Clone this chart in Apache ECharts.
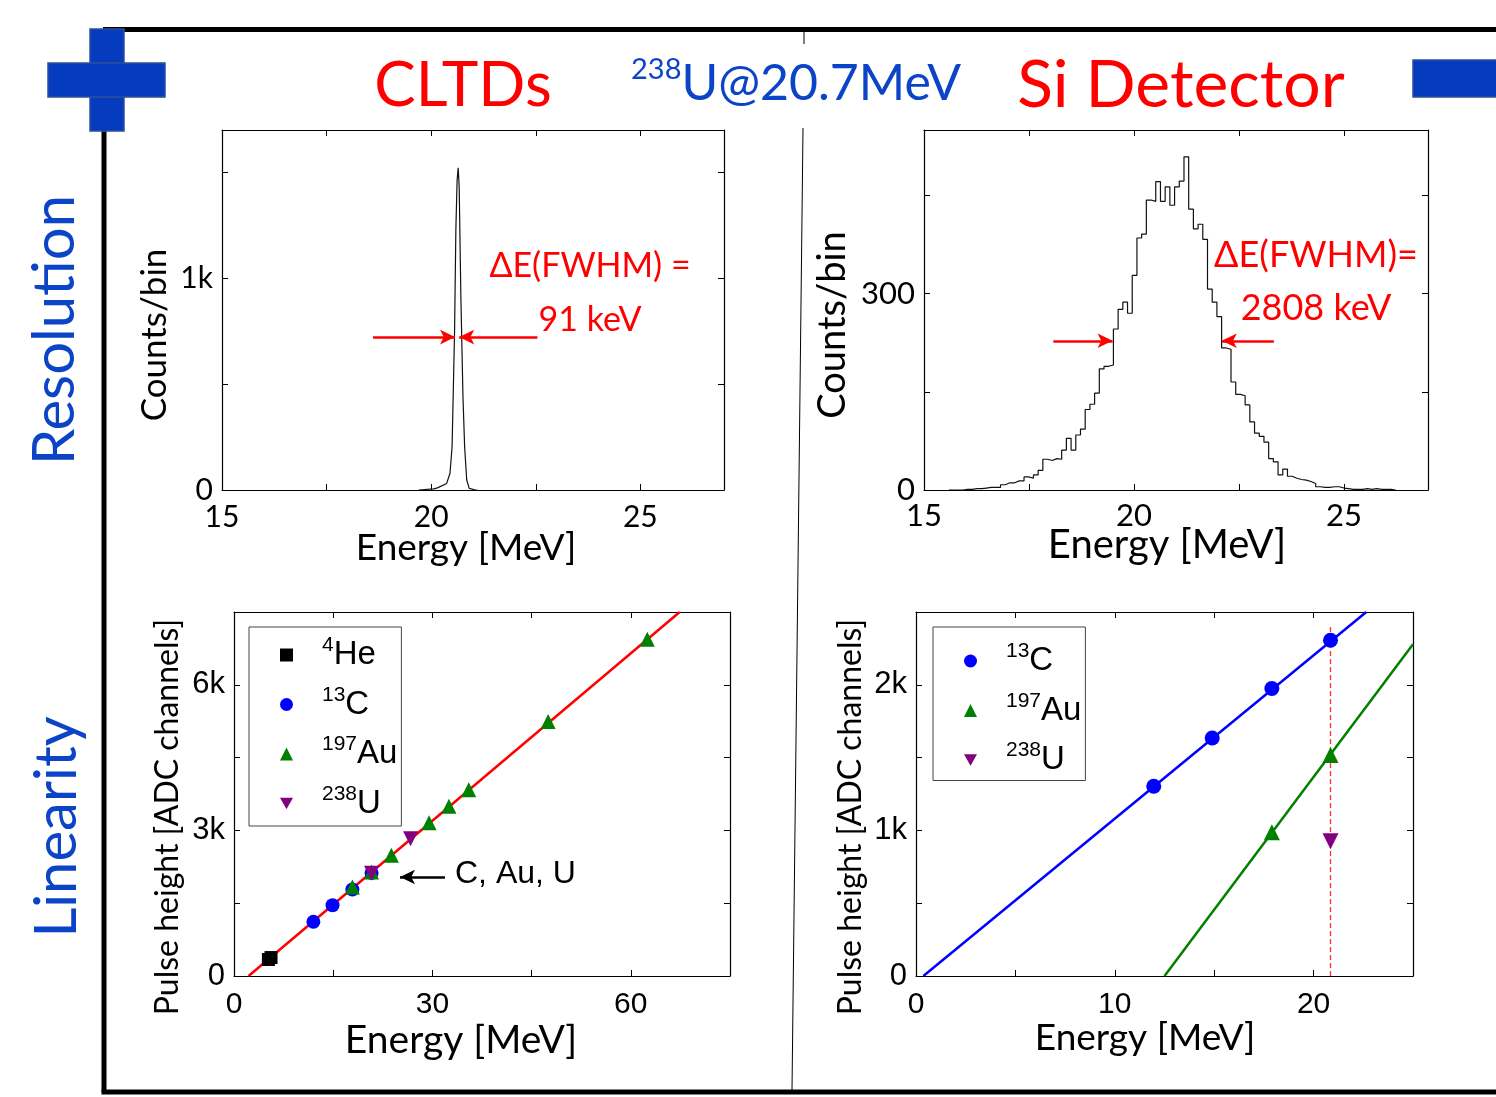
<!DOCTYPE html>
<html>
<head>
<meta charset="utf-8">
<script src="https://cdn.jsdelivr.net/npm/echarts@6/dist/echarts.min.js"></script>
<style>
  html, body { margin: 0; padding: 0; background: #fff; }
  #chart { width: 1496px; height: 1097px; }
</style>
</head>
<body>
<div id="chart"></div>
<script>
// CLTD energy spectrum, [energy MeV, counts/bin]
const cltdSpectrum = [[19.7, 0], [20.06, 5], [20.15, 10], [20.37, 31], [20.45, 79], [20.5, 204], [20.56, 755], [20.59, 1226],
  [20.62, 1462], [20.646, 1522], [20.67, 1430], [20.71, 912], [20.76, 440], [20.8, 204], [20.85, 47], [20.91, 8], [21.04, 1], [21.1, 0]]

// Si detector histogram: first bin edge, bin width (MeV), counts per bin
const siBinStart = 15.59
const siBinWidth = 0.112
const siCounts = [0, 0, 0, 1, 1, 2, 2, 3, 4, 4, 4, 8, 11, 11, 14, 14, 20, 18, 23, 30, 47, 45, 48, 47, 61, 79, 61, 84, 93, 123,
  131, 148, 185, 189, 191, 246, 276, 287, 270, 328, 385, 391, 443, 441, 471, 441, 463, 435, 463, 472, 509, 429, 399, 406, 383,
  307, 287, 265, 217, 215, 165, 146, 144, 130, 104, 87, 82, 73, 48, 43, 23, 32, 21, 18, 16, 15, 13, 10, 5, 4, 4, 5, 5, 3, 2,
  1, 1, 1, 2, 1, 2, 1, 1, 1, 0]

// FWHM arrows: [from, to] energies and height in counts
const cltdArrows = [[18.61, 20.57], [22.54, 20.67]]
const cltdArrowY = 722
const siArrows = [[18.08, 19.49], [23.33, 22.09]]
const siArrowY = 228

// CLTD linearity, [energy MeV, pulse height ADC]
const cltdHe = [[5.2, 340], [5.6, 380]]
const cltdC = [[12.0, 1116], [14.9, 1459], [17.9, 1781], [20.8, 2123]]
const cltdAu = [[17.9, 1835], [20.8, 2144], [23.8, 2486], [29.5, 3157], [32.5, 3500], [35.5, 3836], [47.5, 5246], [62.5, 6938]]
const cltdU = [[20.8, 2116], [26.7, 2829]]
const cltdFit = [[2.2, 0], [67.4, 7500]]
const cauArrow = [[31.9, 2040], [25.1, 2040]]

// Si linearity
const siC = [[11.96, 1303], [14.9, 1635], [17.9, 1975], [20.85, 2306]]
const siAu = [[17.9, 988], [20.85, 1518]]
const siU = [[20.85, 925]]
const siCFit = [[0.37, 0], [22.65, 2500]]
const siAuFit = [[12.5, 0], [25, 2279]]
const uEnergyLine = [[20.85, 0], [20.85, 2416]]

const RED = '#ff0000'
const BLUE = '#0b44c6'
const CAL = 'Lato'
const ARIAL = 'Liberation Sans'
const DOWN_TRI = 'path://M0,0L10,0L5,9Z'

const siHist = siCounts.map((c, i) => [+(siBinStart + i * siBinWidth).toFixed(3), c])
siHist.push([+(siBinStart + siCounts.length * siBinWidth).toFixed(3), 0])

const chart = echarts.init(document.getElementById('chart'), null, { renderer: 'canvas' })

const grids = [
  { left: 222, top: 130, width: 502, height: 360 },
  { left: 924, top: 130, width: 504, height: 360 },
  { left: 234, top: 612, width: 496, height: 364 },
  { left: 916, top: 612, width: 497, height: 364 },
]

function labelMap(map) {
  return v => (map[v] !== undefined ? map[v] : '')
}

function xAxes(gi, min, max, interval, labels, font, size, margin) {
  const base = {
    gridIndex: gi, type: 'value', min, max, interval,
    axisLine: { show: true, onZero: false, lineStyle: { color: '#000', width: 1.2 } },
    axisTick: { show: true, inside: true, length: 6, lineStyle: { color: '#000' } },
    splitLine: { show: false },
  }
  return [
    { ...base, position: 'bottom',
      axisLabel: { margin, color: '#000', fontFamily: font, fontSize: size, formatter: labelMap(labels) } },
    { ...base, position: 'top', axisLabel: { show: false } },
  ]
}

function yAxes(gi, min, max, interval, labels, font, size) {
  const base = {
    gridIndex: gi, type: 'value', min, max, interval,
    axisLine: { show: true, onZero: false, lineStyle: { color: '#000', width: 1.2 } },
    axisTick: { show: true, inside: true, length: 6, lineStyle: { color: '#000' } },
    splitLine: { show: false },
  }
  return [
    { ...base, position: 'left',
      axisLabel: { margin: 9, color: '#000', fontFamily: font, fontSize: size, formatter: labelMap(labels) } },
    { ...base, position: 'right', axisLabel: { show: false } },
  ]
}

const arrowLine = (pairs, y) => pairs.map(p => [{ coord: [p[0], y] }, { coord: [p[1], y] }])

const legendNames = {
  'He': '{g|}{s|4}{b|He}', 'C': '{g|}{s|13}{b|C}', 'Au': '{g|}{s|197}{b|Au}', 'U': '{g|}{s|238}{b|U}',
  'C ': '{g|}{s|13}{b|C}', 'Au ': '{g|}{s|197}{b|Au}', 'U ': '{g|}{s|238}{b|U}',
}
const legendRich = {
  g: { width: 24 },
  s: { fontSize: 21, fontFamily: ARIAL, color: '#000', verticalAlign: 'top', lineHeight: 20 },
  b: { fontSize: 33, fontFamily: ARIAL, color: '#000', lineHeight: 40 },
}
const legendBase = {
  orient: 'vertical', itemWidth: 13, itemHeight: 13, itemGap: 13,
  borderColor: '#444', borderWidth: 1,
  formatter: n => legendNames[n], textStyle: { rich: legendRich },
  selectedMode: false,
}

const scatter = (name, xi, data, symbol, color, size) => ({
  name, type: 'scatter', xAxisIndex: xi, yAxisIndex: xi, data, symbol, symbolSize: size,
  itemStyle: { color, opacity: 1 }, z: 5,
})

const fitLine = (xi, data, color) => ({
  type: 'line', xAxisIndex: xi, yAxisIndex: xi, data, symbol: 'none', lineStyle: { color, width: 2.5 }, z: 3,
})

const text = (x, y, str, font, size, color, extra) => ({
  type: 'text', x, y, z: 20, ...(extra || {}),
  style: { text: str, fontFamily: font, fontSize: size, fill: color, align: 'center', verticalAlign: 'middle', ...((extra && extra.style) || {}) },
})

const option = {
  animation: false,
  backgroundColor: '#fff',
  grid: grids,
  xAxis: [
    ...xAxes(0, 15, 27, 2.5, { 15: '15', 20: '20', 25: '25' }, CAL, 30, 12),
    ...xAxes(1, 15, 27, 2.5, { 15: '15', 20: '20', 25: '25' }, CAL, 31, 10),
    ...xAxes(2, 0, 75, 15, { 0: '0', 30: '30', 60: '60' }, ARIAL, 30, 14),
    ...xAxes(3, 0, 25, 5, { 0: '0', 10: '10', 20: '20' }, ARIAL, 30, 14),
  ],
  yAxis: [
    ...yAxes(0, 0, 1700, 500, { 0: '0', 1000: '1k' }, CAL, 30),
    ...yAxes(1, 0, 550, 150, { 0: '0', 300: '300' }, CAL, 31),
    ...yAxes(2, 0, 7500, 1500, { 0: '0', 3000: '3k', 6000: '6k' }, ARIAL, 31),
    ...yAxes(3, 0, 2500, 500, { 0: '0', 1000: '1k', 2000: '2k' }, ARIAL, 31),
  ],
  legend: [
    { ...legendBase, left: 249, top: 627, padding: [8, 4, 6, 31], data: ['He', 'C', 'Au', { name: 'U', icon: DOWN_TRI }] },
    { ...legendBase, left: 933, top: 627, padding: [14, 4, 4, 31], data: ['C ', 'Au ', { name: 'U ', icon: DOWN_TRI }] },
  ],
  series: [
    {
      type: 'line', xAxisIndex: 0, yAxisIndex: 0, data: cltdSpectrum, symbol: 'none',
      lineStyle: { color: '#111', width: 1.2 },
      markLine: {
        silent: true, symbol: ['none', 'arrow'], symbolSize: [11, 15], label: { show: false },
        lineStyle: { color: RED, width: 2.5, type: 'solid' },
        data: arrowLine(cltdArrows, cltdArrowY),
      },
    },
    {
      type: 'line', xAxisIndex: 2, yAxisIndex: 2, data: siHist, step: 'end', symbol: 'none',
      lineStyle: { color: '#111', width: 1.2 },
      markLine: {
        silent: true, symbol: ['none', 'arrow'], symbolSize: [11, 15], label: { show: false },
        lineStyle: { color: RED, width: 2.5, type: 'solid' },
        data: arrowLine(siArrows, siArrowY),
      },
    },
    {
      ...fitLine(4, cltdFit, RED),
      markLine: {
        silent: true, symbol: ['none', 'arrow'], symbolSize: [11, 15], label: { show: false },
        lineStyle: { color: '#000', width: 2.5, type: 'solid' },
        data: [[{ coord: cauArrow[0] }, { coord: cauArrow[1] }]],
      },
    },
    scatter('He', 4, cltdHe, 'rect', '#000', 13),
    scatter('C', 4, cltdC, 'circle', '#0000ff', 14),
    scatter('Au', 4, cltdAu, 'triangle', '#008000', 15),
    scatter('U', 4, cltdU, DOWN_TRI, '#800080', 15),
    fitLine(6, siCFit, '#0000ff'),
    fitLine(6, siAuFit, '#008000'),
    scatter('C ', 6, siC, 'circle', '#0000ff', 15),
    scatter('Au ', 6, siAu, 'triangle', '#008000', 16),
    {
      ...scatter('U ', 6, siU, DOWN_TRI, '#800080', 16),
      markLine: {
        silent: true, symbol: ['none', 'none'], label: { show: false },
        lineStyle: { color: '#ff3030', width: 1.3, type: [5, 3] },
        data: [[{ coord: uEnergyLine[0] }, { coord: uEnergyLine[1] }]],
      },
    },
  ],
  graphic: [
    // slide frame
    { type: 'line', z: 1, shape: { x1: 103, y1: 29.5, x2: 1496, y2: 29.5 }, style: { stroke: '#000', lineWidth: 5 } },
    { type: 'line', z: 1, shape: { x1: 104, y1: 29.5, x2: 104, y2: 1092 }, style: { stroke: '#000', lineWidth: 5 } },
    { type: 'line', z: 1, shape: { x1: 101.5, y1: 1092, x2: 1496, y2: 1092 }, style: { stroke: '#000', lineWidth: 5 } },
    { type: 'line', z: 1, shape: { x1: 804, y1: 32, x2: 804, y2: 44 }, style: { stroke: '#000', lineWidth: 1 } },
    { type: 'line', z: 1, shape: { x1: 803, y1: 128, x2: 792, y2: 1090 }, style: { stroke: '#000', lineWidth: 1 } },
    // plus and minus marks
    { type: 'rect', z: 10, shape: { x: 90, y: 29, width: 34, height: 102 }, style: { fill: '#053cbe', stroke: '#2f4f9a', lineWidth: 1.5 } },
    { type: 'rect', z: 10, shape: { x: 48, y: 63, width: 117, height: 34 }, style: { fill: '#053cbe', stroke: '#2f4f9a', lineWidth: 1.5 } },
    { type: 'rect', z: 11, shape: { x: 91, y: 64, width: 32, height: 32 }, style: { fill: '#053cbe' } },
    { type: 'rect', z: 10, shape: { x: 1413, y: 60, width: 90, height: 37 }, style: { fill: '#053cbe', stroke: '#2f4f9a', lineWidth: 1.5 } },
    // titles
    text(463, 86, 'CLTDs', CAL, 62, RED),
    text(1181, 86, 'Si Detector', CAL, 66, RED),
    text(796, 84, '{s|238}{m|U@20.7MeV}', CAL, 50, BLUE, {
      style: { rich: { s: { fontSize: 29, fontFamily: CAL, fill: BLUE, verticalAlign: 'top', lineHeight: 30 }, m: { fontSize: 50, fontFamily: CAL, fill: BLUE, lineHeight: 58 } } },
    }),
    text(55, 330, 'Resolution', CAL, 58, BLUE, { rotation: Math.PI / 2 }),
    text(57, 827, 'Linearity', CAL, 58, BLUE, { rotation: Math.PI / 2 }),
    // axis titles
    text(155, 335, 'Counts/bin', CAL, 35, '#000', { rotation: Math.PI / 2 }),
    text(466, 548, 'Energy [MeV]', CAL, 37, '#000'),
    text(833, 325, 'Counts/bin', CAL, 38, '#000', { rotation: Math.PI / 2 }),
    text(1167, 545, 'Energy [MeV]', CAL, 40, '#000'),
    text(168, 817, 'Pulse height [ADC channels]', CAL, 32, '#000', { rotation: Math.PI / 2 }),
    text(461, 1040, 'Energy [MeV]', CAL, 39, '#000'),
    text(851, 817, 'Pulse height [ADC channels]', CAL, 32, '#000', { rotation: Math.PI / 2 }),
    text(1145, 1038, 'Energy [MeV]', CAL, 37, '#000'),
    // annotations
    text(590, 266, 'ΔE(FWHM) =', CAL, 34, RED),
    text(590, 320, '91 keV', CAL, 34, RED),
    text(1316, 255, 'ΔE(FWHM)=', CAL, 36, RED),
    text(1316, 308, '2808 keV', CAL, 36, RED),
    text(455, 874, 'C, Au, U', ARIAL, 32, '#000', { style: { align: 'left' } }),
  ],
}

chart.setOption(option)
</script>
</body>
</html>
